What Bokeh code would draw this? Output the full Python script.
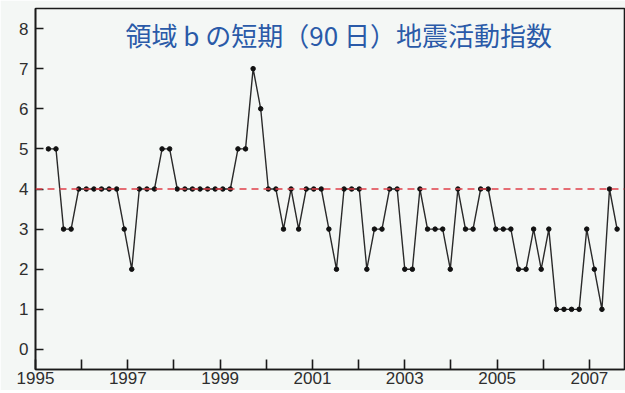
import pandas as pd
from bokeh.plotting import figure
from bokeh.models import FixedTicker, Span, Label, Range1d
from bokeh.embed import file_html
from bokeh.resources import INLINE

# Data: short-term (90-day) seismic activity index for region b, sampled every 60 days
start_date = "1995-04-13"
step_days = 60
index_values = [5, 5, 3, 3, 4, 4, 4, 4, 4, 4, 3, 2, 4, 4, 4, 5, 5,
                4, 4, 4, 4, 4, 4, 4, 4, 5, 5, 7, 6, 4, 4, 3, 4, 3,
                4, 4, 4, 3, 2, 4, 4, 4, 2, 3, 3, 4, 4, 2, 2, 4, 3,
                3, 3, 2, 4, 3, 3, 4, 4, 3, 3, 3, 2, 2, 3, 2, 3, 1,
                1, 1, 1, 3, 2, 1, 4, 3]
threshold = 4
year_ticks = list(range(1995, 2008))
y_ticks = [0, 1, 2, 3, 4, 5, 6, 7, 8]
title_text = "領域 b の短期（90 日）地震活動指数"

dates = pd.date_range(start_date, periods=len(index_values), freq=f"{step_days}D")
x_years = [d.year + (d.dayofyear - 1) / 365.25 for d in dates]

bg = "#f4f7f5"
p = figure(width=625, height=390, output_backend="svg", toolbar_location=None,
           x_range=Range1d(1995.0, 2007.76), y_range=Range1d(-0.5, 8.5),
           min_border_left=35, min_border_right=1, min_border_top=8, min_border_bottom=21,
           background_fill_color=bg, border_fill_color=bg)

p.xgrid.visible = False
p.ygrid.visible = False
p.outline_line_color = "#1a1a1a"
p.outline_line_width = 1.6

for ax in (p.xaxis[0], p.yaxis[0]):
    ax.axis_line_color = "#1a1a1a"
    ax.axis_line_width = 1.6
    ax.major_tick_line_color = "#1a1a1a"
    ax.major_tick_line_width = 1.6
    ax.major_tick_out = 0
    ax.minor_tick_line_color = None
    ax.major_label_text_font = "Liberation Sans"
    ax.major_label_text_font_size = "17px"
    ax.major_label_text_color = "#2e2e2e"

p.xaxis.ticker = FixedTicker(ticks=year_ticks)
p.xaxis.major_label_overrides = {y: (str(y) if y % 2 == 1 else "") for y in year_ticks}
p.xaxis.major_tick_in = 10
p.xaxis.major_label_standoff = 2
p.yaxis.ticker = FixedTicker(ticks=y_ticks)
p.yaxis.major_tick_in = 8
p.yaxis.major_label_standoff = 7

p.add_layout(Span(location=threshold, dimension="width", line_color="#e0404a",
                  line_width=1.4, line_dash="7 5"))

p.line(x_years, index_values, line_color="#2a2a2a", line_width=1.4)
p.scatter(x_years, index_values, size=4.5, fill_color="#111111", line_color="#111111")

p.add_layout(Label(x=1996.95, y=7.85, text=title_text,
                   text_font="Noto Sans CJK JP", text_font_size="26px",
                   text_color="#2a5aa8", text_baseline="middle"))

open("out.html", "w").write(file_html(p, INLINE))
